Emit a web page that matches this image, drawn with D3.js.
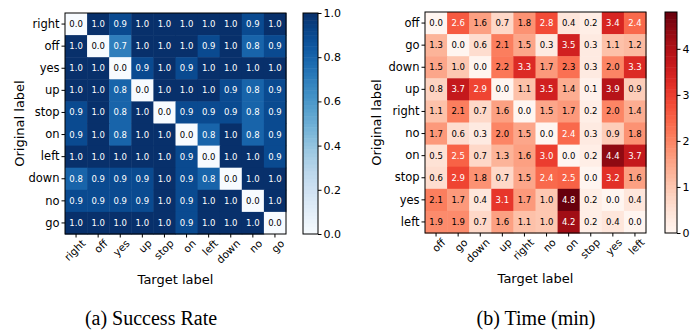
<!DOCTYPE html>
<html>
<head>
<meta charset="UTF-8">
<title>heatmaps</title>
<script src="https://cdn.jsdelivr.net/npm/d3@7"></script>
<style>
body { margin: 0; background: #fff; }
text { font-family: "DejaVu Sans", sans-serif; }
</style>
</head>
<body>
<div id="chart"></div>
<script type="text/javascript">
// success rate (a)
var rateCols = ["right", "off", "yes", "up", "stop", "on", "left", "down", "no", "go"];
var rateRows = ["right", "off", "yes", "up", "stop", "on", "left", "down", "no", "go"];
var rateValues = [
	[0.0, 1.0, 0.9, 1.0, 1.0, 1.0, 1.0, 1.0, 0.9, 1.0],
	[1.0, 0.0, 0.7, 1.0, 1.0, 1.0, 0.9, 1.0, 0.8, 0.9],
	[1.0, 1.0, 0.0, 0.9, 1.0, 0.9, 1.0, 1.0, 1.0, 1.0],
	[1.0, 1.0, 0.8, 0.0, 1.0, 1.0, 1.0, 0.9, 0.8, 0.9],
	[0.9, 1.0, 0.8, 1.0, 0.0, 0.9, 0.9, 0.9, 0.8, 0.9],
	[0.9, 1.0, 0.8, 1.0, 1.0, 0.0, 0.8, 1.0, 0.8, 0.9],
	[1.0, 1.0, 1.0, 1.0, 1.0, 0.9, 0.0, 1.0, 1.0, 0.9],
	[0.8, 0.9, 0.9, 0.9, 1.0, 0.9, 0.8, 0.0, 1.0, 1.0],
	[0.9, 0.9, 0.9, 0.9, 1.0, 0.9, 1.0, 1.0, 0.0, 1.0],
	[1.0, 1.0, 1.0, 1.0, 1.0, 0.9, 1.0, 1.0, 1.0, 0.0]
];
var rateTicks = [0.0, 0.2, 0.4, 0.6, 0.8, 1.0];

// time in minutes (b)
var timeCols = ["off", "go", "down", "up", "right", "no", "on", "stop", "yes", "left"];
var timeRows = ["off", "go", "down", "up", "right", "no", "on", "stop", "yes", "left"];
var timeValues = [
	[0.0, 2.6, 1.6, 0.7, 1.8, 2.8, 0.4, 0.2, 3.4, 2.4],
	[1.3, 0.0, 0.6, 2.1, 1.5, 0.3, 3.5, 0.3, 1.1, 1.2],
	[1.5, 1.0, 0.0, 2.2, 3.3, 1.7, 2.3, 0.3, 2.0, 3.3],
	[0.8, 3.7, 2.9, 0.0, 1.1, 3.5, 1.4, 0.1, 3.9, 0.9],
	[1.1, 2.1, 0.7, 1.6, 0.0, 1.5, 1.7, 0.2, 2.0, 1.4],
	[1.7, 0.6, 0.3, 2.0, 1.5, 0.0, 2.4, 0.3, 0.9, 1.8],
	[0.5, 2.5, 0.7, 1.3, 1.6, 3.0, 0.0, 0.2, 4.4, 3.7],
	[0.6, 2.9, 1.8, 0.7, 1.5, 2.4, 2.5, 0.0, 3.2, 1.6],
	[2.1, 1.7, 0.4, 3.1, 1.7, 1.0, 4.8, 0.2, 0.0, 0.4],
	[1.9, 1.9, 0.7, 1.6, 1.1, 1.0, 4.2, 0.2, 0.4, 0.0]
];
var timeTicks = [0, 1, 2, 3, 4];

var svg = d3.select("#chart").append("svg").attr("width", 696).attr("height", 336);
svg.append("rect").attr("width", 696).attr("height", 336).attr("fill", "#fff");

var drawHeatmap = function(opt) {
	var g = svg.append("g").attr("transform", "translate(" + opt.left + "," + opt.top + ")");
	var x = d3.scaleBand().domain(opt.cols).range([0, opt.size]);
	var y = d3.scaleBand().domain(opt.rows).range([0, opt.size]);
	var color = d3.scaleSequential(opt.interp).domain([0, opt.max]);

	opt.values.forEach(function(row, i) {
		row.forEach(function(v, j) {
			g.append("rect").attr("x", x(opt.cols[j])).attr("y", y(opt.rows[i]))
				.attr("width", x.bandwidth() + 0.5).attr("height", y.bandwidth() + 0.5)
				.attr("fill", color(v));
			g.append("text").attr("x", x(opt.cols[j]) + x.bandwidth() / 2).attr("y", y(opt.rows[i]) + y.bandwidth() / 2)
				.attr("dy", "0.35em").attr("text-anchor", "middle").attr("font-size", 8.5)
				.attr("fill", opt.light(v) ? "#fff" : "#000")
				.text(v.toFixed(1));
		});
	});
	g.append("rect").attr("width", opt.size).attr("height", opt.size).attr("fill", "none").attr("stroke", "#000").attr("stroke-width", 1);

	var ax = g.append("g").attr("transform", "translate(0," + opt.size + ")").call(d3.axisBottom(x).tickSize(3.5).tickPadding(2));
	ax.select(".domain").remove();
	ax.selectAll("text").attr("font-size", 10.5).attr("fill", "#000").attr("text-anchor", "end")
		.attr("dy", "0.3em").attr("transform", "translate(4,4) rotate(-45)");
	var ay = g.append("g").call(d3.axisLeft(y).tickSize(3.5).tickPadding(2));
	ay.select(".domain").remove();
	ay.selectAll("text").attr("font-size", 11.5).attr("fill", "#000");

	g.append("text").attr("x", opt.size / 2).attr("y", opt.size + 50).attr("text-anchor", "middle")
		.attr("font-size", 13).text("Target label");
	g.append("text").attr("transform", "translate(" + (-opt.ylabOff) + "," + (opt.size / 2) + ") rotate(-90)")
		.attr("text-anchor", "middle").attr("font-size", 13).text("Original label");

	// colorbar
	var cb = svg.append("g").attr("transform", "translate(" + opt.cbLeft + "," + opt.top + ")");
	var cy = d3.scaleLinear().domain([0, opt.max]).range([opt.size, 0]);
	var n = 60;
	d3.range(n).forEach(function(k) {
		var v0 = opt.max * k / n, v1 = opt.max * (k + 1) / n;
		cb.append("rect").attr("x", 0).attr("width", opt.cbWidth).attr("y", cy(v1)).attr("height", cy(v0) - cy(v1) + 0.5)
			.attr("fill", color((v0 + v1) / 2));
	});
	cb.append("rect").attr("width", opt.cbWidth).attr("height", opt.size).attr("fill", "none").attr("stroke", "#000");
	var ac = cb.append("g").attr("transform", "translate(" + opt.cbWidth + ",0)")
		.call(d3.axisRight(cy).tickValues(opt.ticks).tickFormat(opt.fmt).tickSize(3.5).tickPadding(2));
	ac.select(".domain").remove();
	ac.selectAll("text").attr("font-size", 11).attr("fill", "#000");

	svg.append("text").attr("x", opt.capX).attr("y", 325).attr("text-anchor", "middle")
		.style("font-family", "'Liberation Serif', serif").attr("font-size", 20)
		.text(opt.caption);
};

drawHeatmap({
	left: 65, top: 13, size: 221,
	cols: rateCols, rows: rateRows, values: rateValues,
	interp: d3.interpolateBlues, max: 1,
	light: function(v) { return v >= 0.5; },
	ylabOff: 41, cbLeft: 303, cbWidth: 15,
	ticks: rateTicks, fmt: d3.format(".1f"),
	capX: 151, caption: "(a)  Success Rate"
});

drawHeatmap({
	left: 425, top: 12, size: 221,
	cols: timeCols, rows: timeRows, values: timeValues,
	interp: d3.interpolateReds, max: 4.8,
	light: function(v) { return v >= 2.4; },
	ylabOff: 44, cbLeft: 665, cbWidth: 12,
	ticks: timeTicks, fmt: d3.format("d"),
	capX: 536, caption: "(b)  Time (min)"
});
</script>
</body>
</html>
